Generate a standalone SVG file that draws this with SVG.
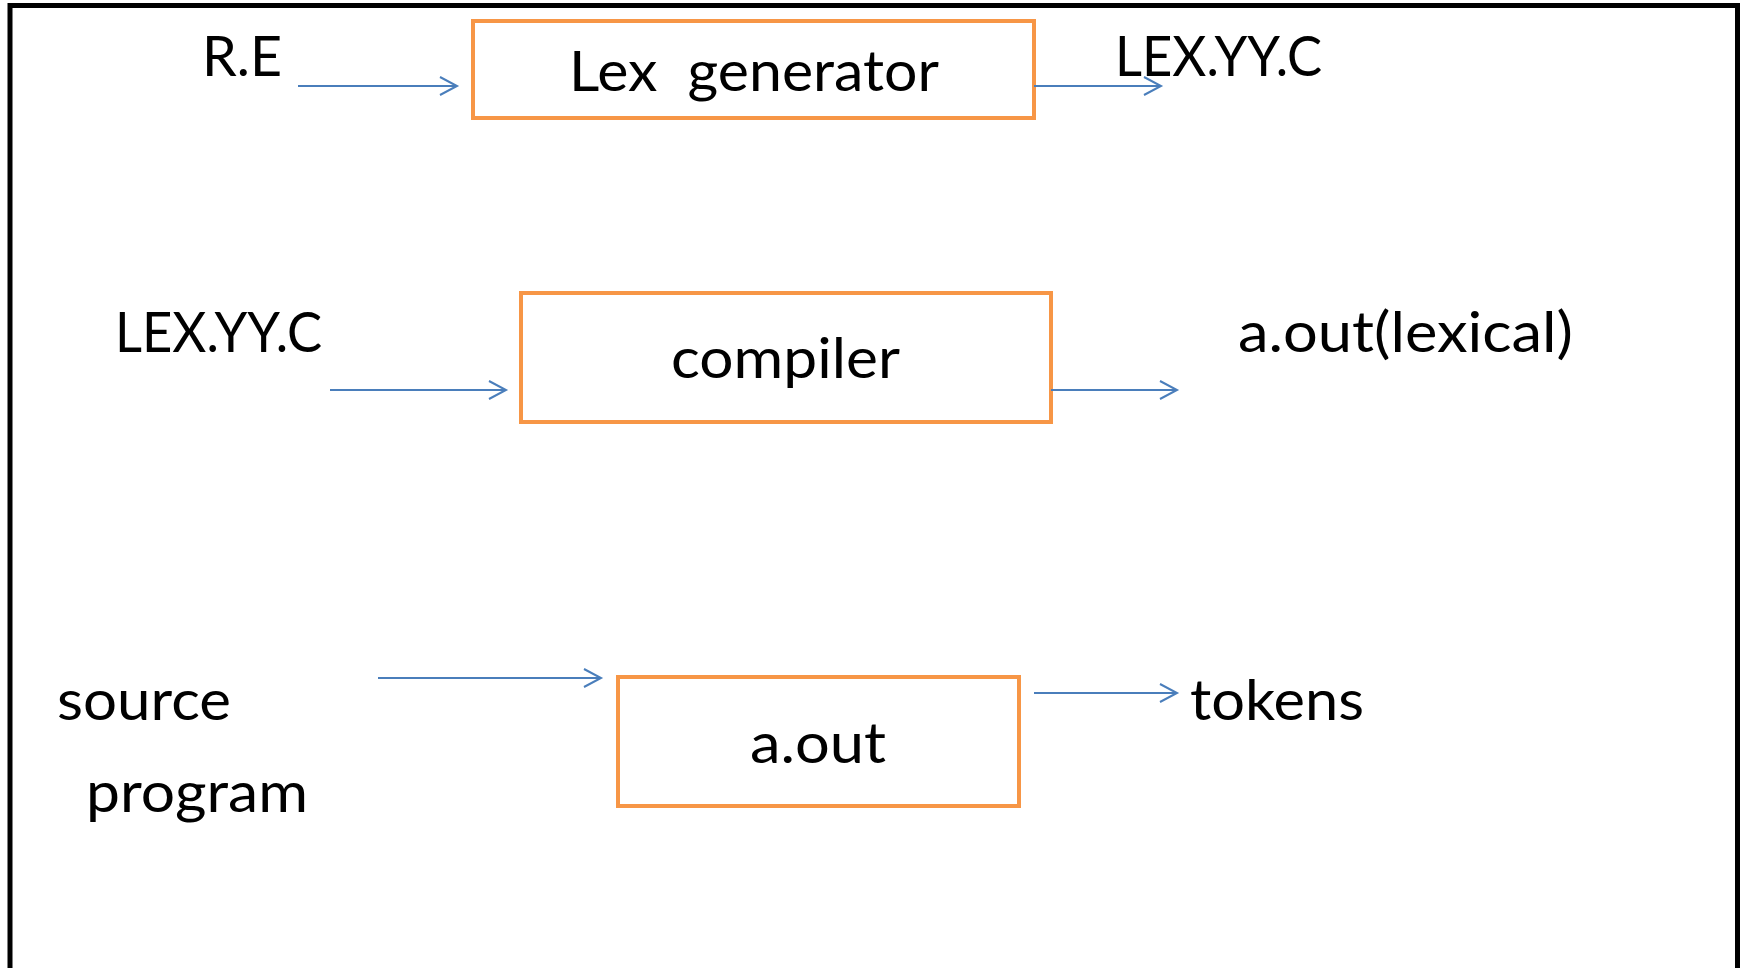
<svg xmlns="http://www.w3.org/2000/svg" width="1742" height="968" viewBox="0 0 1742 968">
<style>
.bg{fill:#ffffff}
.frame{fill:none;stroke:#000;stroke-width:5}
.box{fill:#fff;stroke:#F79646;stroke-width:4}
.lbl{font-family:Lato,"Open Sans","Liberation Sans",sans-serif;font-size:57px;fill:#000}
.conn{stroke:#4A7EBB;stroke-width:2;fill:none}
</style>
<defs>
<marker id="arr" markerUnits="userSpaceOnUse" markerWidth="24" markerHeight="24" viewBox="-20 -12 24 24" refX="0" refY="0" orient="auto">
<path d="M-17,-9 L0,0 L-17,9" fill="none" stroke="#4A7EBB" stroke-width="2"/>
</marker>
</defs>
<rect class="bg" x="0" y="0" width="1742" height="968"/>
<path class="frame" d="M10,970 V5.5 H1737.5 V970"/>
<g id="lex-generator">
<rect class="box" x="473" y="21" width="561" height="97"/>
<text class="lbl" x="569" y="91" textLength="370" lengthAdjust="spacingAndGlyphs" xml:space="preserve">Lex  generator</text>
</g>
<g id="compiler">
<rect class="box" x="521" y="293" width="530" height="129"/>
<text class="lbl" x="671" y="378" textLength="229" lengthAdjust="spacingAndGlyphs">compiler</text>
</g>
<g id="aout">
<rect class="box" x="618" y="677" width="401" height="129"/>
<text class="lbl" x="750" y="763" textLength="136" lengthAdjust="spacingAndGlyphs">a.out</text>
</g>
<g id="labels">
<text class="lbl" x="202" y="76" textLength="80" lengthAdjust="spacingAndGlyphs">R.E</text>
<text class="lbl" x="1115" y="76" textLength="207" lengthAdjust="spacingAndGlyphs">LEX.YY.C</text>
<text class="lbl" x="115" y="352" textLength="207" lengthAdjust="spacingAndGlyphs">LEX.YY.C</text>
<text class="lbl" x="1238" y="352" textLength="335" lengthAdjust="spacingAndGlyphs">a.out(lexical)</text>
<text class="lbl" x="57" y="720" textLength="174" lengthAdjust="spacingAndGlyphs">source</text>
<text class="lbl" x="86" y="812" textLength="222" lengthAdjust="spacingAndGlyphs">program</text>
<text class="lbl" x="1190" y="720" textLength="174" lengthAdjust="spacingAndGlyphs">tokens</text>
</g>
<g id="connectors">
<line class="conn" x1="298" y1="86" x2="457" y2="86" marker-end="url(#arr)"/>
<line class="conn" x1="1034" y1="86" x2="1161" y2="86" marker-end="url(#arr)"/>
<line class="conn" x1="330" y1="390" x2="506" y2="390" marker-end="url(#arr)"/>
<line class="conn" x1="1051" y1="390" x2="1177" y2="390" marker-end="url(#arr)"/>
<line class="conn" x1="378" y1="678" x2="601" y2="678" marker-end="url(#arr)"/>
<line class="conn" x1="1034" y1="693" x2="1177" y2="693" marker-end="url(#arr)"/>
</g>
</svg>
